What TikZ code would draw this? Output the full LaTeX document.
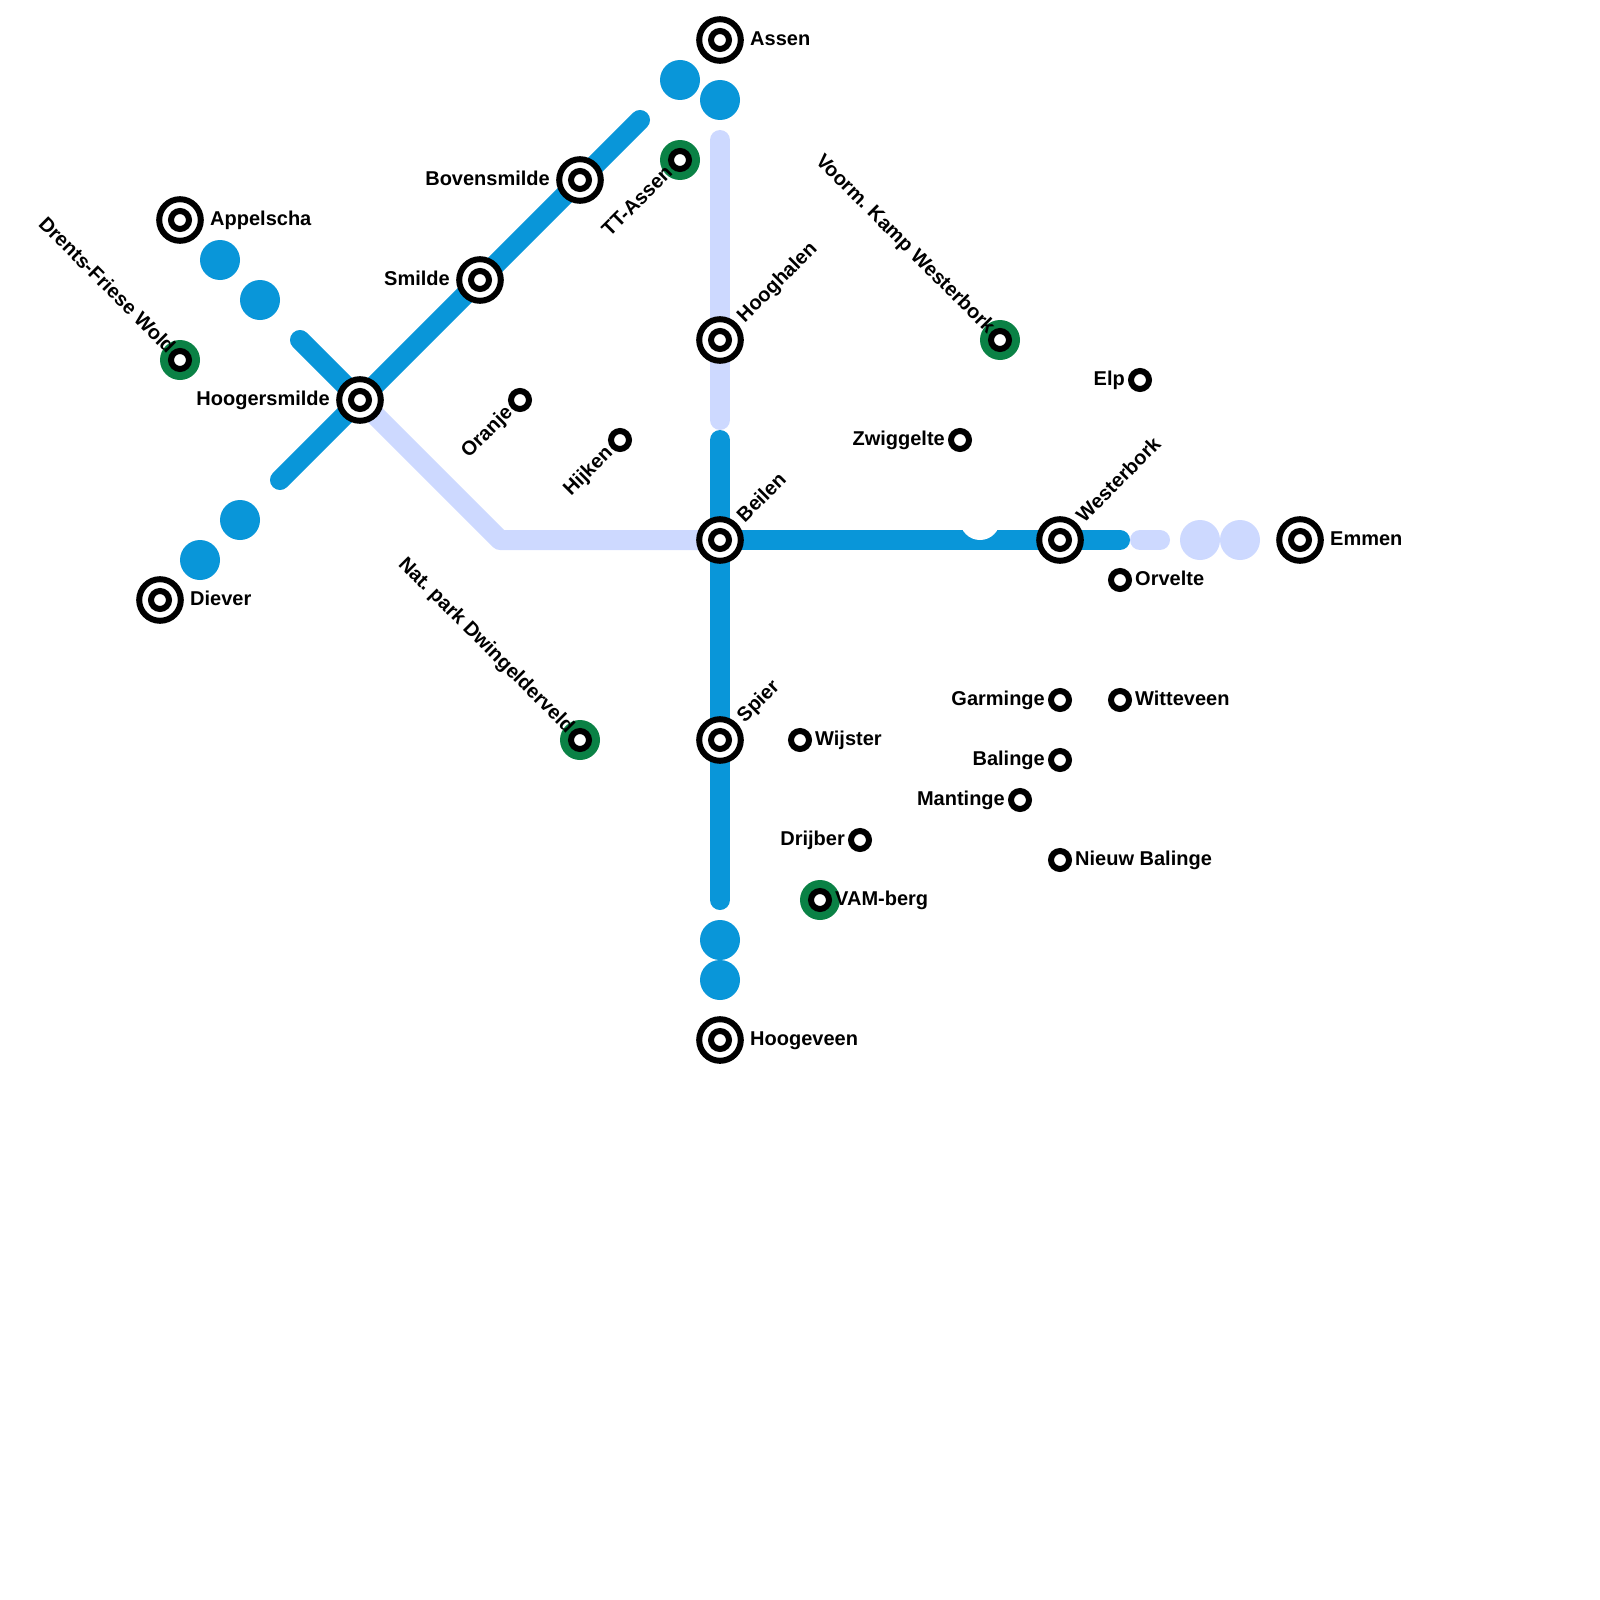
\documentclass[tikz,border=0pt]{standalone}
\usepackage{fontspec}
\setmainfont{Liberation Sans}
\usepackage{xcolor}
\usetikzlibrary{backgrounds}
\definecolor{lineblue}{HTML}{0996D9}
\definecolor{linepale}{HTML}{CDD9FF}
\definecolor{parkgreen}{HTML}{0A8145}
\frenchspacing
\begin{document}
\begin{tikzpicture}[
        x=1pt, y=-1pt,
        track/.style={line width=20pt, line cap=round, line join=round, draw=#1},
        dot/.style={circle, fill=#1, inner sep=0pt, minimum size=40pt},
        bigstop/.style={circle, draw=black, line width=6pt, fill=white, inner sep=0pt, minimum size=41.6pt,
            path picture={\draw[line width=6pt] (path picture bounding box.center) circle (9pt);}},
        smallstop/.style={circle, draw=black, line width=6pt, fill=white, inner sep=0pt, minimum size=18pt},
        parkstop/.style={circle, fill=parkgreen, inner sep=0pt, minimum size=40pt,
            path picture={\draw[line width=6pt, fill=white] (path picture bounding box.center) circle (9pt);}},
        lbl/.style={font=\bfseries\fontsize{20}{22}\selectfont, inner sep=0pt, text=black, text height=10.6pt, text depth=0pt}
    ]
        \useasboundingbox (0,0) rectangle (1600,1600);

        % Line ends
        \coordinate (nwend) at (300,340);
        \coordinate (swend) at (280,480);
        \coordinate (neend) at (640,120);
        \coordinate (palebend) at (500,540);
        \coordinate (paletop) at (720,140);
        \coordinate (palelow) at (720,420);
        \coordinate (bluetop) at (720,440);
        \coordinate (bluelow) at (720,900);
        \coordinate (eastend) at (1120,540);
        \coordinate (stubwest) at (1140,540);
        \coordinate (stubeast) at (1160,540);

        % Stations on the lines
        \node[bigstop] (assen) at (720,40) {};
        \node[bigstop] (appelscha) at (180,220) {};
        \node[bigstop] (hoogersmilde) at (360,400) {};
        \node[bigstop] (bovensmilde) at (580,180) {};
        \node[bigstop] (smilde) at (480,280) {};
        \node[bigstop] (hooghalen) at (720,340) {};
        \node[bigstop] (beilen) at (720,540) {};
        \node[bigstop] (westerbork) at (1060,540) {};
        \node[bigstop] (emmen) at (1300,540) {};
        \node[bigstop] (spier) at (720,740) {};
        \node[bigstop] (hoogeveen) at (720,1040) {};
        \node[bigstop] (diever) at (160,600) {};

        % Tracks and dots, under the stations
        \begin{scope}[on background layer]
            \draw[track=linepale] (hoogersmilde.center) -- (palebend) -- (beilen.center);
            \draw[track=linepale] (paletop) -- (palelow);
            \draw[track=linepale] (stubwest) -- (stubeast);
            \draw[track=lineblue] (nwend) -- (hoogersmilde.center);
            \draw[track=lineblue] (swend) -- (neend);
            \draw[track=lineblue] (bluetop) -- (bluelow);
            \draw[track=lineblue] (beilen.center) -- (eastend);

            \node[dot=lineblue] (d1) at (680,80) {};
            \node[dot=lineblue] (d2) at (720,100) {};
            \node[dot=lineblue] (d3) at (220,260) {};
            \node[dot=lineblue] (d4) at (260,300) {};
            \node[dot=lineblue] (d5) at (240,520) {};
            \node[dot=lineblue] (d6) at (200,560) {};
            \node[dot=lineblue] (d7) at (720,940) {};
            \node[dot=lineblue] (d8) at (720,980) {};
            \node[dot=linepale] (d9) at (1200,540) {};
            \node[dot=linepale] (d10) at (1240,540) {};
            \node[dot=white] (notch) at (980,520) {};
        \end{scope}

        % Small stops
        \node[smallstop] (oranje) at (520,400) {};
        \node[smallstop] (hijken) at (620,440) {};
        \node[smallstop] (zwiggelte) at (960,440) {};
        \node[smallstop] (elp) at (1140,380) {};
        \node[smallstop] (orvelte) at (1120,580) {};
        \node[smallstop] (garminge) at (1060,700) {};
        \node[smallstop] (witteveen) at (1120,700) {};
        \node[smallstop] (wijster) at (800,740) {};
        \node[smallstop] (balinge) at (1060,760) {};
        \node[smallstop] (mantinge) at (1020,800) {};
        \node[smallstop] (drijber) at (860,840) {};
        \node[smallstop] (nieuwbalinge) at (1060,860) {};

        % Green stops
        \node[parkstop] (wold) at (180,360) {};
        \node[parkstop] (ttassen) at (680,160) {};
        \node[parkstop] (kamp) at (1000,340) {};
        \node[parkstop] (dwingel) at (580,740) {};
        \node[parkstop] (vamberg) at (820,900) {};

        % Labels
        \node[lbl, anchor=west] (assen-l) at (750,40) {Assen};
        \node[lbl, anchor=west] (appelscha-l) at (210,220) {Appelscha};
        \node[lbl, anchor=east] (hoogersmilde-l) at (330,400) {Hoogersmilde};
        \node[lbl, anchor=east] (bovensmilde-l) at (550,180) {Bovensmilde};
        \node[lbl, anchor=east] (smilde-l) at (450,280) {Smilde};
        \node[lbl, anchor=west] (emmen-l) at (1330,540) {Emmen};
        \node[lbl, anchor=west] (hoogeveen-l) at (750,1040) {Hoogeveen};
        \node[lbl, anchor=west] (diever-l) at (190,600) {Diever};
        \node[lbl, anchor=west, rotate=45] (hooghalen-l) at (741,319.5) {Hooghalen};
        \node[lbl, anchor=west, rotate=45] (beilen-l) at (741,519.5) {Beilen};
        \node[lbl, anchor=west, rotate=45] (westerbork-l) at (1080.5,519.5) {Westerbork};
        \node[lbl, anchor=west, rotate=45] (spier-l) at (741,719.5) {Spier};

        \node[lbl, anchor=east, rotate=45] (oranje-l) at (510,410) {Oranje};
        \node[lbl, anchor=east, rotate=45] (hijken-l) at (610,450) {Hijken};
        \node[lbl, anchor=east, rotate=45] (ttassen-l) at (670,170) {TT-Assen};
        \node[lbl, anchor=east] (zwiggelte-l) at (945,440) {Zwiggelte};
        \node[lbl, anchor=east] (elp-l) at (1125,380) {Elp};
        \node[lbl, anchor=west] (orvelte-l) at (1135,580) {Orvelte};
        \node[lbl, anchor=east] (garminge-l) at (1045,700) {Garminge};
        \node[lbl, anchor=west] (witteveen-l) at (1135,700) {Witteveen};
        \node[lbl, anchor=west] (wijster-l) at (815,740) {Wijster};
        \node[lbl, anchor=east] (balinge-l) at (1045,760) {Balinge};
        \node[lbl, anchor=east] (mantinge-l) at (1005,800) {Mantinge};
        \node[lbl, anchor=east] (drijber-l) at (845,840) {Drijber};
        \node[lbl, anchor=west] (nieuwbalinge-l) at (1075,860) {Nieuw Balinge};

        \node[lbl, anchor=east, rotate=-45] (wold-l) at (171,351) {Drents-Friese Wold};
        \node[lbl, anchor=east, rotate=-45] (kamp-l) at (991,331) {Voorm. Kamp Westerbork};
        \node[lbl, anchor=east, rotate=-45] (dwingel-l) at (570.5,730.5) {Nat. park Dwingelderveld};
        \node[lbl, anchor=west] (vamberg-l) at (835,900) {VAM-berg};
    \end{tikzpicture}
\end{document}
